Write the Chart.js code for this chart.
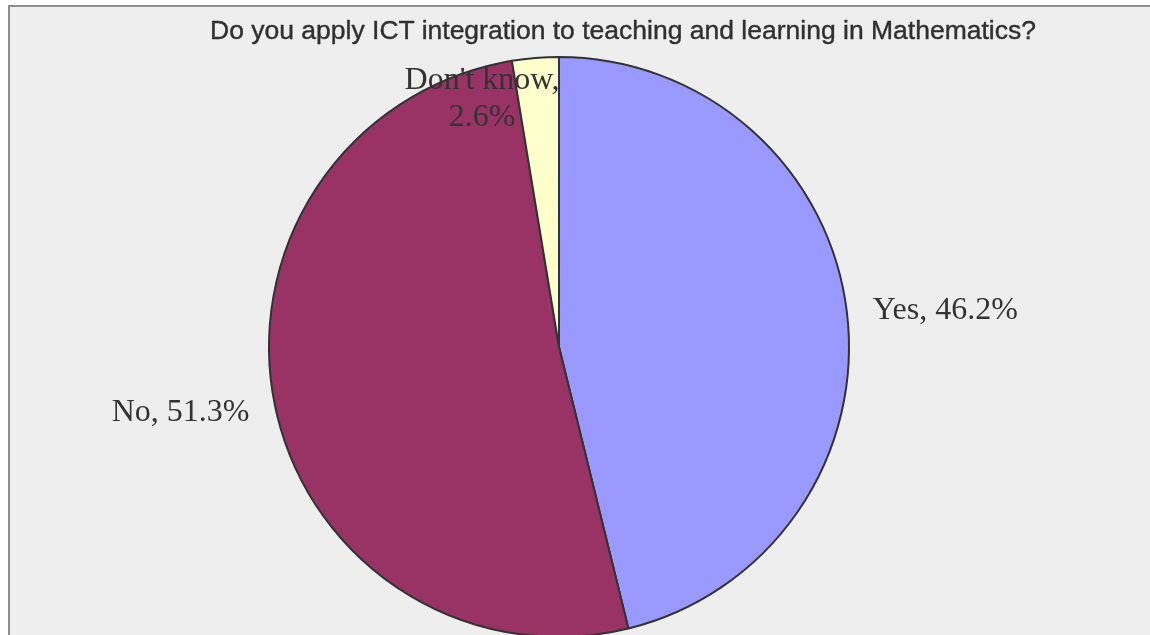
<!DOCTYPE html>
<html>
<head>
<meta charset="utf-8">
<script src="https://cdn.jsdelivr.net/npm/chart.js@4/dist/chart.umd.min.js"></script>
<style>
  html, body { margin: 0; padding: 0; background: #ffffff; overflow: hidden; width: 1150px; height: 635px; }
  #frame { position: absolute; left: 8px; top: 5px; width: 1400px; height: 720px; background: #eeeeee;
           border-top: 2px solid #8e8e8e; border-left: 2px solid #8e8e8e; }
  #title { position: absolute; left: 0; width: 1226px; top: 8px; line-height: 30px; text-align: center;
           font-family: "Liberation Sans", Arial, sans-serif; font-size: 26.5px; color: #303030; white-space: nowrap;
           -webkit-text-stroke: 0.4px #303030; }
  #wrap { position: absolute; left: 0; top: 0; width: 1300px; height: 700px; }
</style>
</head>
<body>
<div id="frame">
  <div id="wrap"><canvas id="c" width="1300" height="700"></canvas></div>
  <div id="title">Do you apply ICT integration to teaching and learning in Mathematics?</div>
</div>
<script>
const categories = ["Yes", "No", "Don't know"];
const percentages = [46.2, 51.3, 2.6];
const sliceColors = ["#9999ff", "#993366", "#ffffcc"];

// label placement styles: 'outside' = anchored just beyond rim along mid angle;
// 'inside' = two-line label moved inward (offset from pie centre)
const labelStyles = [
  { mode: "outside", gap: 26 },
  { mode: "outside", gap: 26 },
  { mode: "inside", dx: -77, dy: -248 }
];

const labelPlugin = {
  id: "sliceLabels",
  afterDatasetsDraw(chart) {
    const ctx = chart.ctx;
    const meta = chart.getDatasetMeta(0);
    ctx.save();
    ctx.font = "32px 'Liberation Serif', 'Times New Roman', serif";
    ctx.fillStyle = "#333333";
    ctx.textBaseline = "middle";
    meta.data.forEach((arc, i) => {
      const p = arc.getProps(["x", "y", "startAngle", "endAngle", "outerRadius"], true);
      const mid = (p.startAngle + p.endAngle) / 2;
      const st = labelStyles[i];
      const value = percentages[i].toFixed(1) + "%";
      if (st.mode === "outside") {
        const r = p.outerRadius + st.gap;
        const x = p.x + Math.cos(mid) * r;
        const y = p.y + Math.sin(mid) * r + 2;
        ctx.textAlign = Math.cos(mid) >= 0 ? "left" : "right";
        ctx.fillText(categories[i] + ", " + value, x, y);
      } else {
        const x = p.x + st.dx;
        const y = p.y + st.dy;
        ctx.textAlign = "center";
        ctx.fillText(categories[i] + ",", x, y - 18);
        ctx.fillText(value, x, y + 19);
      }
    });
    ctx.restore();
  }
};

new Chart(document.getElementById("c"), {
  type: "pie",
  data: {
    labels: categories,
    datasets: [{
      data: percentages,
      backgroundColor: sliceColors,
      borderColor: "#333333",
      borderWidth: 2
    }]
  },
  options: {
    responsive: false,
    animation: false,
    layout: { padding: { left: 258, right: 460, top: 49, bottom: 69 } },
    plugins: {
      legend: { display: false },
      title: { display: false },
      tooltip: { enabled: false }
    }
  },
  plugins: [labelPlugin]
});
</script>
</body>
</html>
